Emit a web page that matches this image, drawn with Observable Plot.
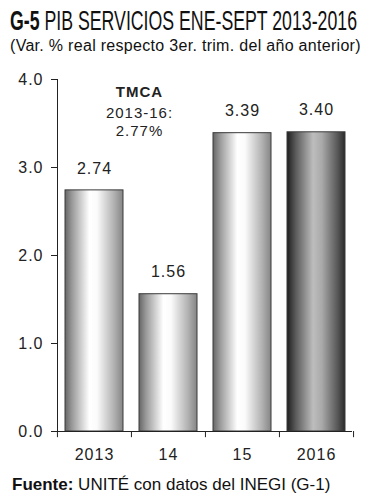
<!DOCTYPE html>
<html>
<head>
<meta charset="utf-8">
<script src="https://cdn.jsdelivr.net/npm/d3@7"></script>
<script src="https://cdn.jsdelivr.net/npm/@observablehq/plot@0.6"></script>
<style>
  html, body { margin: 0; padding: 0; background: #fff; }
  #wrap { position: relative; width: 376px; height: 500px; overflow: hidden; font-family: "Liberation Sans", Arial, sans-serif; color: #111; }
  .abs { position: absolute; white-space: nowrap; }
  #title { left: 10px; top: 9px; font-family: "Liberation Sans Narrow", "Liberation Sans", Arial, sans-serif; font-size: 28px; line-height: 24px; transform-origin: 0 0; }
  #title b { font-weight: bold; }
  #subtitle { left: 10px; top: 38px; font-size: 16px; line-height: 16px; letter-spacing: 0.3px; }
  #chart { position: absolute; left: 0; top: 60px; }
  #caption { left: 12px; top: 477px; font-size: 17px; line-height: 16px; }
</style>
</head>
<body>
<div id="wrap">
  <div id="title" class="abs"><b>G-5</b> PIB SERVICIOS ENE-SEPT 2013-2016</div>
  <div id="subtitle" class="abs">(Var. % real respecto 3er. trim. del año anterior)</div>
  <div id="chart"></div>
  <div id="caption" class="abs"><b>Fuente:</b> UNITÉ con datos del INEGI (G-1)</div>
</div>
<script>
const categories = ["2013", "14", "15", "2016"];
const values = [2.74, 1.56, 3.39, 3.40];
const barStyles = ["light", "light", "light", "dark"];
const yTicks = [0, 1, 2, 3, 4];
const annotationTitle = "TMCA";
const annotationBody = "2013-16:\n2.77%";

const data = categories.map((c, i) => ({cat: c, value: values[i], style: barStyles[i]}));

const W = 376, H = 405, mL = 57, mR = 24, mT = 19, mB = 34;
const pInner = 0.22, pOuter = 0.1;
const step = (W - mL - mR) / (categories.length - pInner + 2 * pOuter);

const gradientDefs = () => {
  const defs = d3.create("svg:defs");
  const mk = (id, stops) => {
    const g = defs.append("linearGradient").attr("id", id).attr("x1", "0").attr("x2", "1").attr("y1", "0").attr("y2", "0");
    stops.forEach(([o, c]) => g.append("stop").attr("offset", o).attr("stop-color", c));
  };
  mk("grad-light", [[0, "#666666"], [0.12, "#999999"], [0.42, "#ffffff"], [0.55, "#fbfbfb"], [0.85, "#b0b0b0"], [1, "#858585"]]);
  mk("grad-dark", [[0, "#1e1e1e"], [0.15, "#5a5a5a"], [0.45, "#bdbdbd"], [0.6, "#aaaaaa"], [0.88, "#555555"], [1, "#2a2a2a"]]);
  return defs.node();
};

const chart = Plot.plot({
  width: W, height: H,
  marginLeft: mL, marginRight: mR, marginTop: mT, marginBottom: mB,
  style: {fontFamily: "'Liberation Sans', Arial, sans-serif", fontSize: "16px", color: "#222", letterSpacing: "1px", background: "transparent"},
  x: {domain: categories, paddingInner: pInner, paddingOuter: pOuter, label: null},
  y: {domain: [0, 4], label: null},
  color: {type: "identity"},
  marks: [
    gradientDefs,
    Plot.barY(data, {x: "cat", y: "value", fill: d => `url(#grad-${d.style})`, stroke: "#3a3a3a", strokeWidth: 1}),
    Plot.text(data, {x: "cat", y: "value", text: d => d.value.toFixed(2), dy: -22, fontSize: 16, fill: "#222"}),
    Plot.text([annotationTitle], {x: () => categories[1], frameAnchor: "top", lineAnchor: "top", text: d => d, dx: -29, dy: 7, fontSize: 15, fontWeight: "bold", fill: "#222", letterSpacing: "0.5px"}),
    Plot.text([annotationBody], {x: () => categories[1], frameAnchor: "top", lineAnchor: "top", text: d => d, dx: -29, dy: 26, lineHeight: 1.2, fontSize: 15, fill: "#222", letterSpacing: "0.8px"}),
    Plot.axisY({ticks: yTicks, tickFormat: d => d.toFixed(1), tickSize: 6, tickPadding: 8, fontSize: 16, stroke: "#222"}),
    Plot.axisX({tickSize: 0, tickPadding: 17, fontSize: 16}),
    Plot.frame({anchor: "left", stroke: "#222"}),
    Plot.ruleY([0], {stroke: "#222"}),
    Plot.ruleX(categories, {x: d => d, y1: 0, y2: -0.07, dx: -step / 2, stroke: "#222"}),
    Plot.ruleX(categories.slice(-1), {x: d => d, y1: 0, y2: -0.07, dx: step / 2, stroke: "#222"})
  ]
});
document.getElementById("chart").appendChild(chart);

// condense the title to its reference width
const t = document.getElementById("title");
const tw = t.getBoundingClientRect().width;
t.style.transform = `scaleX(${347 / tw})`;
</script>
</body>
</html>
